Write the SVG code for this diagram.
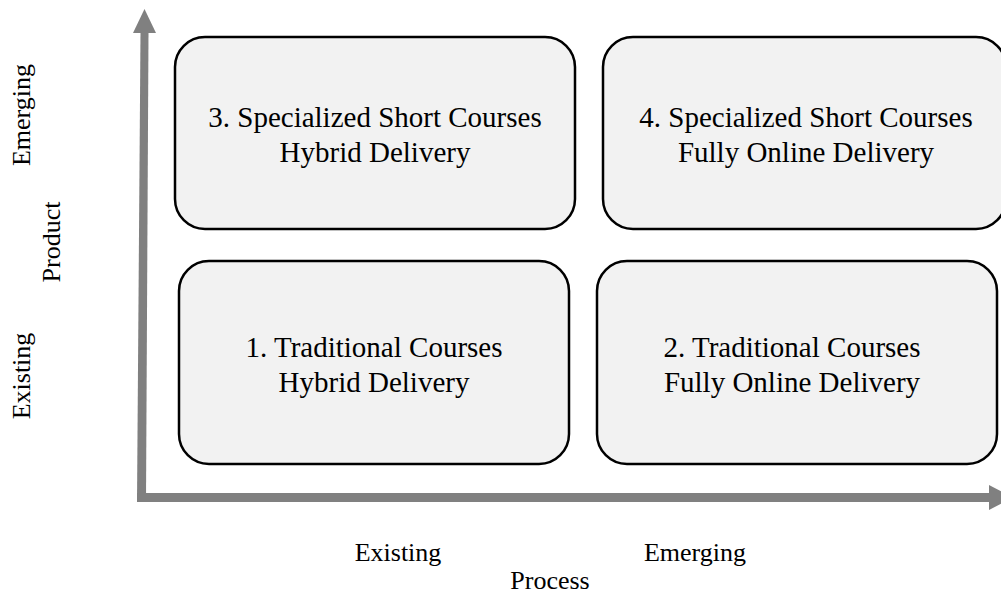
<svg xmlns="http://www.w3.org/2000/svg" width="1001" height="594" viewBox="0 0 1001 594">
<style>
.box{fill:#f2f2f2;stroke:#000;stroke-width:2.5}
.t{font-size:29px;fill:#000;text-anchor:middle}
.lab{font-size:26px;fill:#000;text-anchor:middle}
.ax{fill:#808080}
</style>
<rect width="1001" height="594" fill="#fff"/>
<g id="connectors">
<polygon class="ax" points="140.5,32 148.5,32 146,502 137,502"/>
<polygon class="ax" points="144.5,9 133,33 156,33"/>
<rect class="ax" x="137" y="493" width="856" height="9"/>
<polygon class="ax" points="989,485 1013,497.5 989,510"/>
</g>
<g font-family="'Liberation Serif', 'Times New Roman', serif">
<g id="node3">
<rect class="box" x="175" y="37" width="400" height="192" rx="30" ry="30"/>
<text class="t" x="375" y="127">3. Specialized Short Courses</text>
<text class="t" x="375" y="162">Hybrid Delivery</text>
</g>
<g id="node4">
<rect class="box" x="603" y="37" width="403" height="192" rx="30" ry="30"/>
<text class="t" x="806" y="127">4. Specialized Short Courses</text>
<text class="t" x="806" y="162">Fully Online Delivery</text>
</g>
<g id="node1">
<rect class="box" x="179" y="261" width="390" height="203" rx="30" ry="30"/>
<text class="t" x="374" y="357">1. Traditional Courses</text>
<text class="t" x="374" y="392">Hybrid Delivery</text>
</g>
<g id="node2">
<rect class="box" x="597" y="261" width="400" height="203" rx="30" ry="30"/>
<text class="t" x="792" y="357">2. Traditional Courses</text>
<text class="t" x="792" y="392">Fully Online Delivery</text>
</g>
<g id="labels">
<text class="lab" transform="translate(30,115) rotate(-90)">Emerging</text>
<text class="lab" transform="translate(60,242) rotate(-90)">Product</text>
<text class="lab" transform="translate(30,376) rotate(-90)">Existing</text>
<text class="lab" x="398" y="561">Existing</text>
<text class="lab" x="695" y="561">Emerging</text>
<text class="lab" x="550" y="589">Process</text>
</g>
</g>
</svg>
